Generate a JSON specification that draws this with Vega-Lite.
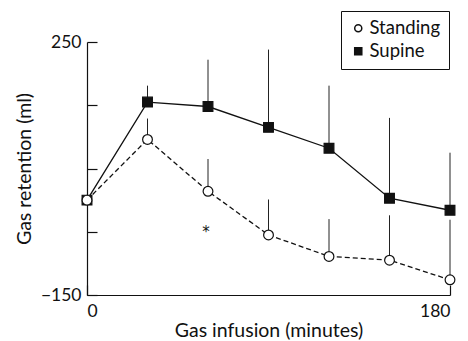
{
  "$schema": "https://vega.github.io/schema/vega-lite/v6.json",
  "width": 363,
  "height": 253,
  "autosize": {"type": "none"},
  "padding": {"left": 87, "top": 42, "right": 18, "bottom": 46},
  "background": "white",
  "config": {
    "view": {"stroke": null},
    "font": "Lato",
    "axis": {"grid": false, "domainColor": "#111", "tickColor": "#111", "labelColor": "#111", "titleColor": "#111", "labelFont": "Lato", "titleFont": "Lato", "titleFontWeight": "normal", "labelFontSize": 17.5, "titleFontSize": 19.5, "tickSize": -10, "domainWidth": 1.2, "tickWidth": 1.2}
  },
  "datasets": {
    "main": [
      {"group": "Supine", "minutes": 0, "value": 0, "upper": 0},
      {"group": "Supine", "minutes": 30, "value": 155, "upper": 181},
      {"group": "Supine", "minutes": 60, "value": 148, "upper": 222},
      {"group": "Supine", "minutes": 90, "value": 115, "upper": 238},
      {"group": "Supine", "minutes": 120, "value": 82, "upper": 181},
      {"group": "Supine", "minutes": 150, "value": 3, "upper": 130},
      {"group": "Supine", "minutes": 180, "value": -16, "upper": 75},
      {"group": "Standing", "minutes": 0, "value": 0, "upper": 0},
      {"group": "Standing", "minutes": 30, "value": 96, "upper": 129},
      {"group": "Standing", "minutes": 60, "value": 14, "upper": 65},
      {"group": "Standing", "minutes": 90, "value": -55, "upper": 1},
      {"group": "Standing", "minutes": 120, "value": -89, "upper": -30},
      {"group": "Standing", "minutes": 150, "value": -95, "upper": -24},
      {"group": "Standing", "minutes": 180, "value": -126, "upper": -31}
    ],
    "marks": [{"minutes": 59, "value": -45, "label": "*"}]
  },
  "layer": [
    {
      "data": {"name": "main"},
      "mark": {"type": "rule", "color": "#222", "strokeWidth": 1},
      "encoding": {
        "x": {"field": "minutes", "type": "quantitative"},
        "y": {"field": "value", "type": "quantitative"},
        "y2": {"field": "upper"}
      }
    },
    {
      "data": {"name": "main"},
      "transform": [{"filter": "datum.group == 'Supine'"}],
      "mark": {"type": "line", "color": "#111", "strokeWidth": 1.3},
      "encoding": {
        "x": {"field": "minutes", "type": "quantitative"},
        "y": {"field": "value", "type": "quantitative"}
      }
    },
    {
      "data": {"name": "main"},
      "transform": [{"filter": "datum.group == 'Standing'"}],
      "mark": {"type": "line", "color": "#111", "strokeWidth": 1.3, "strokeDash": [5, 3]},
      "encoding": {
        "x": {"field": "minutes", "type": "quantitative"},
        "y": {"field": "value", "type": "quantitative"}
      }
    },
    {
      "data": {"name": "main"},
      "mark": {"type": "point", "filled": true, "size": 95, "stroke": "#111", "strokeWidth": 1.2, "opacity": 1},
      "encoding": {
        "x": {
          "field": "minutes", "type": "quantitative",
          "scale": {"domain": [0, 180], "nice": false, "zero": false},
          "axis": {"values": [0, 180], "title": "Gas infusion (minutes)", "labelPadding": 17, "titlePadding": 2}
        },
        "y": {
          "field": "value", "type": "quantitative",
          "scale": {"domain": [-150, 250], "nice": false, "zero": false},
          "axis": {
            "values": [-150, -100, -50, 0, 50, 100, 150, 200, 250],
            "labelExpr": "datum.value == 250 || datum.value == 0 || datum.value == -150 ? datum.label : ''",
            "title": "Gas retention (ml)", "labelPadding": 16, "titlePadding": 6
          }
        },
        "shape": {
          "field": "group", "type": "nominal",
          "scale": {"domain": ["Standing", "Supine"], "range": ["circle", "square"]},
          "legend": {
            "title": null, "orient": "none", "legendX": 254, "legendY": -31,
            "strokeColor": "#111", "padding": 8, "labelFontSize": 18.5, "labelFont": "Lato", "labelColor": "#111",
            "symbolSize": 50, "rowPadding": 4, "labelOffset": 2,
            "encode": {"symbols": {"update": {"stroke": {"value": "#111"}, "strokeWidth": {"value": 1}}}}
          }
        },
        "fill": {
          "field": "group", "type": "nominal",
          "scale": {"domain": ["Standing", "Supine"], "range": ["white", "#111"]},
          "legend": {
            "title": null, "orient": "none", "legendX": 254, "legendY": -31,
            "strokeColor": "#111", "padding": 8, "labelFontSize": 18.5, "labelFont": "Lato", "labelColor": "#111",
            "symbolSize": 50, "rowPadding": 4, "labelOffset": 2,
            "encode": {"symbols": {"update": {"stroke": {"value": "#111"}, "strokeWidth": {"value": 1}}}}
          }
        },
        "order": {"field": "group", "sort": "descending"}
      }
    },
    {
      "data": {"name": "marks"},
      "mark": {"type": "text", "fontSize": 15, "font": "DejaVu Sans", "color": "#111", "baseline": "middle", "dy": 3},
      "encoding": {
        "x": {"field": "minutes", "type": "quantitative"},
        "y": {"field": "value", "type": "quantitative"},
        "text": {"field": "label"}
      }
    }
  ]
}
